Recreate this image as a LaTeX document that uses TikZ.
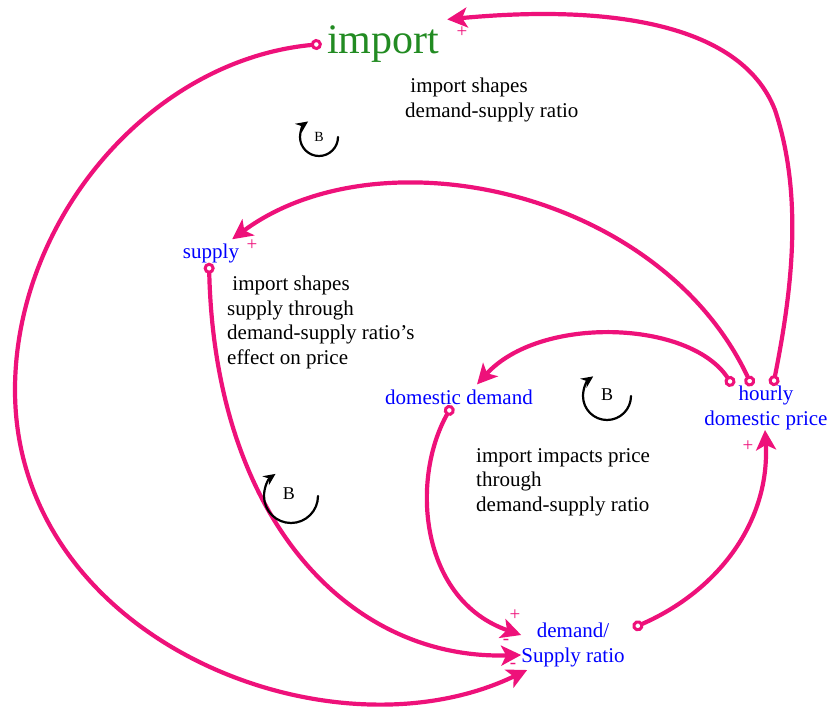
\documentclass[tikz,border=0pt]{standalone}
\usepackage{fontspec}
\setmainfont{Liberation Serif}
\usetikzlibrary{arrows.meta,calc,positioning}

\definecolor{linkpink}{RGB}{238,17,122}
\definecolor{impgreen}{RGB}{34,139,34}

\begin{document}
\begin{tikzpicture}[x=1pt, y=-1pt, line join=round, line cap=round,
    var/.style={text=blue, font=\fontsize{21}{24.5}\selectfont, inner sep=0pt, align=center},
    note/.style={font=\fontsize{21}{24.5}\selectfont, inner sep=0pt, align=left, anchor=north west},
    sgn/.style={text=linkpink, font=\fontsize{19}{19}\selectfont, inner sep=0pt},
    link/.style={draw=linkpink, line width=4.2pt,
        {Circle[open,fill=white,length=11pt,width=11pt,line width=3pt]}-{Stealth[length=20pt,width=20pt,inset=5pt]}},
    loopar/.style={draw=black, line width=2.2pt, -{Stealth[length=12pt,width=11pt]}}]
    \useasboundingbox (0,0) rectangle (833,725);

    % variables
    \node[text=impgreen, font=\fontsize{42}{42}\selectfont, inner sep=0pt] (imp) at (383,44) {import};
    \node[var] (sup) at (211,253) {supply};
    \node[var] (dd) at (459,397) {domestic demand};
    \node[var] (hdp) at (766,408) {hourly\\domestic price};
    \node[var] (ratio) at (573,645) {demand/\\Supply ratio};

    % links
    \draw[link] ([xshift=-5pt]imp.west) .. controls (150,60) and (15,220) .. (15,390)
        .. controls (15,640) and (330,765) .. ([shift={(6pt,-3pt)}]ratio.south west);
    \draw[link] ([xshift=7pt]hdp.north) .. controls (790,300) and (805,200) .. (775,110)
        .. controls (740,20) and (600,5) .. ([shift={(8pt,6pt)}]imp.north east);
    \draw[link] ([xshift=-14pt]hdp.north) .. controls (660,190) and (380,130) .. ([shift={(-7pt,4pt)}]sup.north east);
    \draw[link] ([xshift=-33pt]hdp.north) .. controls (690,320) and (540,315) .. ([shift={(18pt,5pt)}]dd.north);
    \draw[link] ([xshift=-2pt]sup.south) .. controls (215,520) and (350,660) .. ([yshift=-10pt]ratio.west);
    \draw[link] ([shift={(-7pt,-1pt)}]dd.south) .. controls (410,480) and (420,600) .. ([yshift=10pt]ratio.west);
    \draw[link] ([shift={(8pt,-5pt)}]ratio.north east) .. controls (720,590) and (770,520) .. ([xshift=-1pt]hdp.south);

    % polarities
    \node[sgn] (s1) at (462,32) {+};
    \node[sgn] (s2) at (252,245) {+};
    \node[sgn] (s3) at (748,446) {+};
    \node[sgn] (s4) at (515,615) {+};
    \node[sgn] (s5) at (506,642) {-};
    \node[sgn] (s6) at (513,666) {-};

    % loops
    \node[font=\fontsize{14}{14}\selectfont, inner sep=0pt] (b1) at (319,137) {B};
    \draw[loopar] ([xshift=19pt]b1.center) arc[start angle=0, end angle=-235, radius=19pt];
    \node[font=\fontsize{18}{18}\selectfont, inner sep=0pt] (b2) at (607,395) {B};
    \draw[loopar] ([shift={(24pt,-1pt)}]b2.center) arc[start angle=0, end angle=-235, radius=24pt];
    \node[font=\fontsize{18}{18}\selectfont, inner sep=0pt] (b3) at (289,494) {B};
    \draw[loopar] ([shift={(29pt,-2pt)}]b3.center) arc[start angle=0, end angle=-235, radius=27pt];

    % notes
    \node[note] (n1) at (405,78) {\ import shapes\\demand-supply ratio};
    \node[note] (n2) at (227,276) {\ import shapes\\supply through\\demand-supply ratio's\\effect on price};
    \node[note] (n3) at (476,448) {import impacts price\\through\\demand-supply ratio};
\end{tikzpicture}
\end{document}
